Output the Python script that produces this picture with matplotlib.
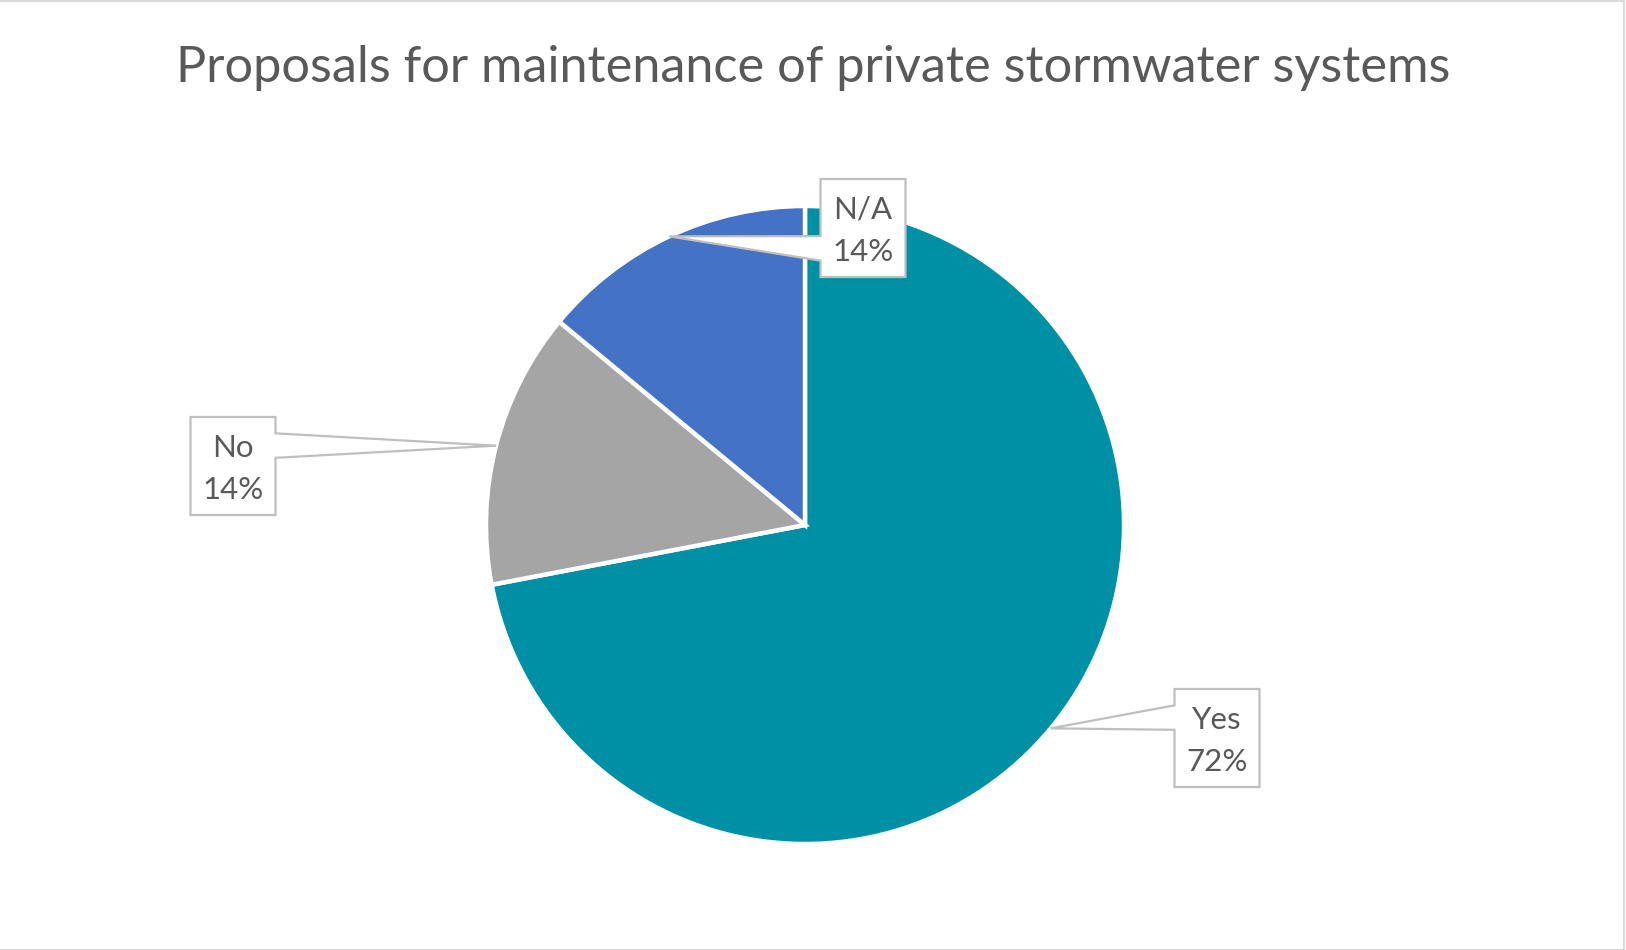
import numpy as np
import matplotlib.pyplot as plt
from matplotlib.patches import Polygon
from matplotlib.lines import Line2D

W, H = 1626, 950
plt.rcParams['font.family'] = ['Lato', 'DejaVu Sans']

title = 'Proposals for maintenance of private stormwater systems'
labels = ['Yes', 'No', 'N/A']
shares = [72, 14, 14]
colors = ['#0090A6', '#A5A5A5', '#4472C4']

# pie centre and radius in pixels, label box centres in pixels
cx, cy, R = 805, 525, 319
box_centres = [(1217, 738), (233, 466), (863, 228)]
box_w, box_h = 85, 98
text_col = '#595959'
edge_col = '#BFBFBF'


def px(x, y):
    """pixel (y down) -> pie data units"""
    return (x - cx) / R, (cy - y) / R


def callout(ax, bx, by, tip, text):
    """rectangle with a wedge pointing at tip, all in data units"""
    w, h = box_w / R, box_h / R
    l, r, b, t = bx - w / 2, bx + w / 2, by - h / 2, by + h / 2
    dxp, dyp = tip[0] - bx, tip[1] - by
    if abs(dxp * h) > abs(dyp * w):
        # base on left/right side, y measured from top going down
        f1, f2 = (7, 10) if dyp < 0 else (2, 5)
        y1, y2 = t - h * f1 / 12, t - h * f2 / 12
        if dxp < 0:
            pts = [(l, t), (r, t), (r, b), (l, b), (l, y2), tip, (l, y1)]
        else:
            pts = [(l, t), (r, t), (r, y1), tip, (r, y2), (r, b), (l, b)]
    else:
        f1, f2 = (7, 10) if dxp > 0 else (2, 5)
        x1, x2 = l + w * f1 / 12, l + w * f2 / 12
        if dyp > 0:
            pts = [(l, t), (x1, t), tip, (x2, t), (r, t), (r, b), (l, b)]
        else:
            pts = [(l, t), (r, t), (r, b), (x2, b), tip, (x1, b), (l, b)]
    ax.add_patch(Polygon(pts, closed=True, facecolor='white', edgecolor=edge_col,
                         linewidth=1.6, joinstyle='miter', zorder=5))
    ax.text(bx, by - 3 / R, text, ha='center', va='center', fontsize=22.5,
            color=text_col, linespacing=1.62, zorder=6)


fig = plt.figure(figsize=(W / 100, H / 100), dpi=100)
fig.patch.set_facecolor('white')
ax = fig.add_axes([0, 0, 1, 1])

wedges, _ = ax.pie(shares, colors=colors, startangle=90, counterclock=False,
                   radius=1, center=(0, 0),
                   wedgeprops=dict(edgecolor='white', linewidth=3.2))

ax.set_xlim(-cx / R, (W - cx) / R)
ax.set_ylim(-(H - cy) / R, cy / R)
ax.set_aspect('equal', adjustable='box')
ax.axis('off')

for wdg, lab, val, (bx, by) in zip(wedges, labels, shares, box_centres):
    mid = np.deg2rad((wdg.theta1 + wdg.theta2) / 2)
    tip = (np.cos(mid), np.sin(mid))
    callout(ax, *px(bx, by), tip, f'{lab}\n{val}%')

fig.text(813 / W, 1 - 82 / H, title, ha='center', va='baseline',
         fontsize=36.4, color=text_col)

# chart area border (top, right, bottom)
fig.lines.append(Line2D([0, 1 - 2.5 / W, 1 - 2.5 / W, 0],
                        [1 - 1 / H, 1 - 1 / H, 0.5 / H, 0.5 / H],
                        transform=fig.transFigure, color='#D9D9D9', linewidth=1.5))

fig.savefig('out.png', dpi=100, facecolor='white')
